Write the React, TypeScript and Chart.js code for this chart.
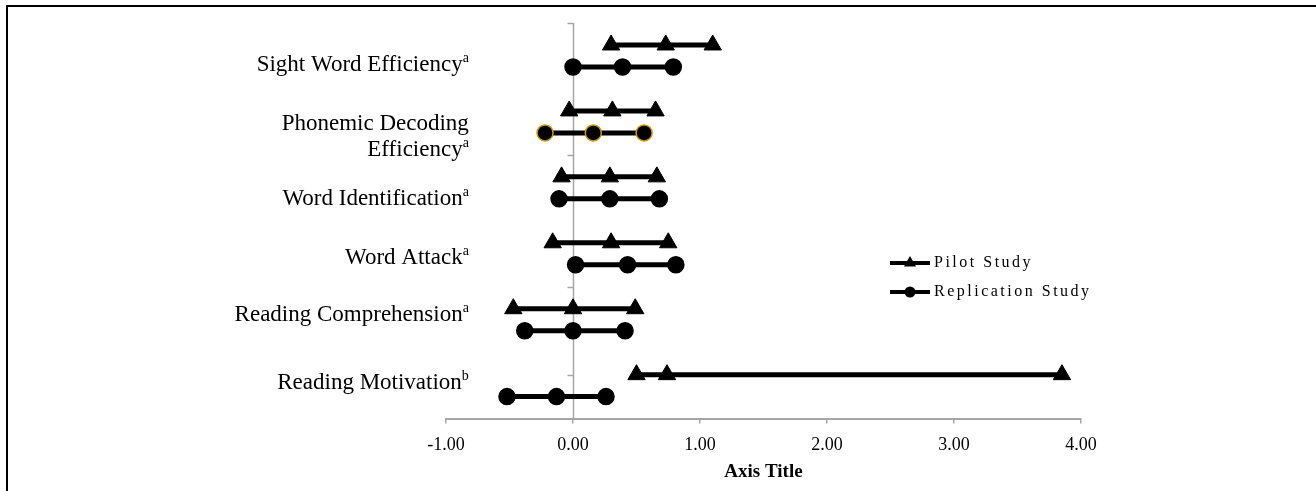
import React, { useEffect, useRef } from 'react';
import { Chart, registerables } from 'chart.js';

Chart.register(...registerables);

const FONT = "'Liberation Serif', 'Times New Roman', serif";

// Outcome labels (lines) and footnote markers
const categoryLines: string[][] = [
  ['Sight Word Efficiency'],
  ['Phonemic Decoding', 'Efficiency'],
  ['Word Identification'],
  ['Word Attack'],
  ['Reading Comprehension'],
  ['Reading Motivation'],
];
const superscripts = ['a', 'a', 'a', 'a', 'a', 'b'];

// Pilot Study: lower CI, estimate, upper CI
const pilotLow = [0.3, -0.03, -0.09, -0.16, -0.47, 0.5];
const pilotEst = [0.73, 0.31, 0.29, 0.3, 0.0, 0.74];
const pilotHigh = [1.1, 0.65, 0.66, 0.75, 0.49, 3.85];

// Replication Study: lower CI, estimate, upper CI
const repLow = [0.0, -0.22, -0.11, 0.02, -0.38, -0.52];
const repEst = [0.39, 0.16, 0.29, 0.43, 0.0, -0.13];
const repHigh = [0.79, 0.56, 0.68, 0.81, 0.41, 0.26];

// Vertical placement of each row on the hidden value axis (0..9)
const pilotY = [8.5, 7, 5.5, 4, 2.5, 1];
const repY = [8, 6.5, 5, 3.5, 2, 0.5];
const labelY = [8.1, 6.45, 5.05, 3.7, 2.4, 0.85];
const yAxisTicks = [9, 6, 3, 1];

// X axis
const xMin = -1;
const xMax = 4;
const xStep = 1;
const xTitle = 'Axis Title';

const legendItems = [
  { label: 'Pilot Study', style: 'triangle' },
  { label: 'Replication Study', style: 'circle' },
];

export default function App() {
  const ref = useRef<HTMLCanvasElement>(null);

  useEffect(() => {
    if (!ref.current) return;
    const datasets: any[] = [];
    categoryLines.forEach((_, i) => {
      datasets.push({
        label: 'Pilot Study',
        data: [
          { x: pilotLow[i], y: pilotY[i] },
          { x: pilotEst[i], y: pilotY[i] },
          { x: pilotHigh[i], y: pilotY[i] },
        ],
        showLine: true,
        borderColor: '#000',
        backgroundColor: '#000',
        borderWidth: 5,
        pointStyle: 'triangle',
        pointRadius: 10,
        pointHoverRadius: 10,
        pointBackgroundColor: '#000',
        pointBorderColor: '#000',
        pointBorderWidth: 1,
      });
      datasets.push({
        label: 'Replication Study',
        data: [
          { x: repLow[i], y: repY[i] },
          { x: repEst[i], y: repY[i] },
          { x: repHigh[i], y: repY[i] },
        ],
        showLine: true,
        borderColor: '#000',
        backgroundColor: '#000',
        borderWidth: 5,
        pointStyle: 'circle',
        pointRadius: 8,
        pointHoverRadius: 8,
        pointBackgroundColor: '#000',
        pointBorderColor: i === 1 ? '#c8960c' : '#000',
        pointBorderWidth: 1.5,
      });
    });

    const decor = {
      id: 'decor',
      beforeDraw(chart: any) {
        const ctx = chart.ctx;
        ctx.save();
        ctx.fillStyle = '#000';
        ctx.fillRect(6, 5, chart.width - 6, 2);
        ctx.fillRect(6, 5, 2, chart.height - 5);
        ctx.restore();
      },
      beforeDatasetsDraw(chart: any) {
        const ctx = chart.ctx;
        const xs = chart.scales.x;
        const ys = chart.scales.y;
        const x0 = Math.round(xs.getPixelForValue(0)) + 0.5;
        ctx.save();
        ctx.strokeStyle = '#a6a6a6';
        ctx.lineWidth = 1.5;
        ctx.beginPath();
        ctx.moveTo(x0, chart.chartArea.top);
        ctx.lineTo(x0, chart.chartArea.bottom);
        yAxisTicks.forEach((v) => {
          const py = Math.round(ys.getPixelForValue(v)) + 0.5;
          ctx.moveTo(x0 - 6, py);
          ctx.lineTo(x0, py);
        });
        ctx.stroke();
        ctx.restore();
      },
      afterDraw(chart: any) {
        const ctx = chart.ctx;
        const xs = chart.scales.x;
        const ys = chart.scales.y;
        const rightX = xs.getPixelForValue(-0.82);
        ctx.save();
        ctx.fillStyle = '#000';
        categoryLines.forEach((lines, i) => {
          const cy = ys.getPixelForValue(labelY[i]);
          const lineGap = 26;
          const startY = cy - ((lines.length - 1) * lineGap) / 2;
          lines.forEach((txt, li) => {
            const baseline = startY + li * lineGap + 8;
            const isLast = li === lines.length - 1;
            ctx.textBaseline = 'alphabetic';
            ctx.textAlign = 'right';
            let supW = 0;
            if (isLast) {
              ctx.font = `14px ${FONT}`;
              supW = ctx.measureText(superscripts[i]).width;
              ctx.fillText(superscripts[i], rightX, baseline - 9);
            }
            ctx.font = `23px ${FONT}`;
            ctx.fillText(txt, rightX - supW, baseline);
          });
        });

        // legend
        const lx = 890;
        const rowY = [263, 292];
        legendItems.forEach((item, k) => {
          const y = rowY[k];
          ctx.strokeStyle = '#000';
          ctx.lineWidth = 4;
          ctx.beginPath();
          ctx.moveTo(lx, y);
          ctx.lineTo(lx + 40, y);
          ctx.stroke();
          ctx.fillStyle = '#000';
          ctx.beginPath();
          if (item.style === 'triangle') {
            const r = 7;
            ctx.moveTo(lx + 20, y - r);
            ctx.lineTo(lx + 20 - r * 0.866, y + r * 0.5);
            ctx.lineTo(lx + 20 + r * 0.866, y + r * 0.5);
            ctx.closePath();
          } else {
            ctx.arc(lx + 20, y, 5.5, 0, Math.PI * 2);
          }
          ctx.fill();
          ctx.font = `16px ${FONT}`;
          (ctx as any).letterSpacing = '2.5px';
          ctx.textAlign = 'left';
          ctx.textBaseline = 'middle';
          ctx.fillText(item.label, lx + 44, y);
          (ctx as any).letterSpacing = '0px';
        });
        ctx.restore();
      },
    };

    const chart = new Chart(ref.current, {
      type: 'scatter',
      data: { datasets },
      options: {
        animation: false,
        responsive: true,
        maintainAspectRatio: false,
        layout: { padding: { left: 446, right: 235, top: 23, bottom: 8 } },
        plugins: { legend: { display: false }, tooltip: { enabled: false } },
        scales: {
          x: {
            type: 'linear',
            min: xMin,
            max: xMax,
            ticks: {
              stepSize: xStep,
              callback: (v: any) => Number(v).toFixed(2),
              font: { family: FONT, size: 18 },
              color: '#000',
              padding: 11,
            },
            grid: { drawOnChartArea: false, drawTicks: true, tickLength: 5, color: '#a6a6a6', lineWidth: 1.5 },
            border: { color: '#a6a6a6', width: 2 },
            title: {
              display: true,
              text: xTitle,
              font: { family: FONT, size: 19, weight: 'bold' },
              color: '#000',
              padding: { top: -7, bottom: 0 },
            },
          },
          y: { type: 'linear', min: 0, max: 9, display: false },
        },
      } as any,
      plugins: [decor],
    });
    return () => chart.destroy();
  }, []);

  return (
    <div style={{ position: 'absolute', left: 0, top: 0, width: 1316, height: 491, background: '#fff' }}>
      <canvas ref={ref} />
    </div>
  );
}
